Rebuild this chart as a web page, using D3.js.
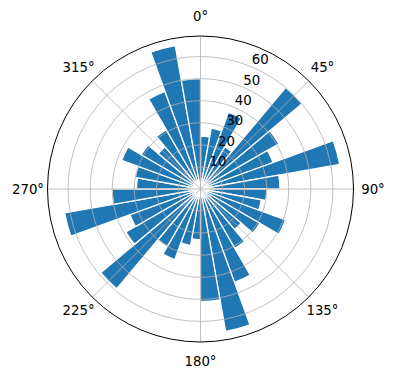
<!DOCTYPE html>
<html>
<head>
<meta charset="utf-8">
<script src="https://cdn.jsdelivr.net/npm/d3@7"></script>
<style>
  body { margin: 0; background: #fff; }
  text { font-family: "DejaVu Sans", sans-serif; font-size: 13.3px; fill: #000; }
</style>
</head>
<body>
<div class="polar-bars"></div>
<script>
// bar start angles (degrees, clockwise from north), each bar 10 deg wide
const thetaStart = [0, 10, 20, 30, 40, 50, 60, 70, 80, 90, 100, 110,
  120, 130, 140, 150, 160, 170, 180, 190, 200, 210, 220, 230,
  240, 250, 260, 270, 280, 290, 300, 310, 320, 330, 340, 350];
const barWidth = 10;
const radii = [24, 28, 37, 22, 60, 41, 35, 64, 36, 30, 28, 41,
  31, 24, 31, 45, 65.5, 51, 23, 26, 34, 30, 59, 39,
  34, 62.5, 40, 29, 30, 38, 31, 25, 31, 47, 66, 50];
const rTicks = [10, 20, 30, 40, 50, 60];
const thetaTicks = [0, 45, 90, 135, 180, 225, 270, 315];

const width = 396, height = 380;
const cx = 200.5, cy = 189, outer = 153;

const svg = d3.select(".polar-bars")
  .append("svg")
    .attr("width", width)
    .attr("height", height)
  .append("g")
    .attr("transform", `translate(${cx},${cy})`);

// matplotlib-ish autoscale: 5% margin over the data max
const rmax = d3.max(radii) * 1.05;
const r = d3.scaleLinear().domain([0, rmax]).range([0, outer]);
const rad = d => d * Math.PI / 180;

// bars
const arc = d3.arc()
  .innerRadius(0)
  .outerRadius(d => r(d.v))
  .startAngle(d => rad(d.t))
  .endAngle(d => rad(d.t + barWidth));

svg.append("g")
  .selectAll("path")
  .data(thetaStart.map((t, i) => ({t: t, v: radii[i]})))
  .join("path")
    .attr("d", arc)
    .attr("fill", "#1f77b4")
    .attr("stroke", "#fff")
    .attr("stroke-width", 1.3)
    .attr("stroke-linejoin", "miter");

// grid on top of bars
const grid = svg.append("g")
  .attr("fill", "none")
  .attr("stroke", "#b0b0b0")
  .attr("stroke-width", 0.8);

grid.selectAll("circle")
  .data(rTicks)
  .join("circle")
    .attr("r", d => r(d));

grid.selectAll("line")
  .data(thetaTicks)
  .join("line")
    .attr("x1", 0).attr("y1", 0)
    .attr("x2", d => outer * Math.sin(rad(d)))
    .attr("y2", d => -outer * Math.cos(rad(d)));

// outer spine
svg.append("circle")
  .attr("r", outer)
  .attr("fill", "none")
  .attr("stroke", "#000")
  .attr("stroke-width", 1);

// angle labels
svg.append("g")
  .selectAll("text")
  .data(thetaTicks)
  .join("text")
    .attr("x", d => 172.5 * Math.sin(rad(d)))
    .attr("y", d => -172.5 * Math.cos(rad(d)))
    .attr("text-anchor", "middle")
    .attr("dominant-baseline", "central")
    .text(d => d + "°");

// radial labels along 22.5 deg
svg.append("g")
  .selectAll("text")
  .data(rTicks)
  .join("text")
    .attr("x", d => r(d) * Math.sin(rad(22.5)) + 9)
    .attr("y", d => -r(d) * Math.cos(rad(22.5)) - 7)
    .attr("text-anchor", "middle")
    .attr("dominant-baseline", "central")
    .text(d => d);
</script>
</body>
</html>
